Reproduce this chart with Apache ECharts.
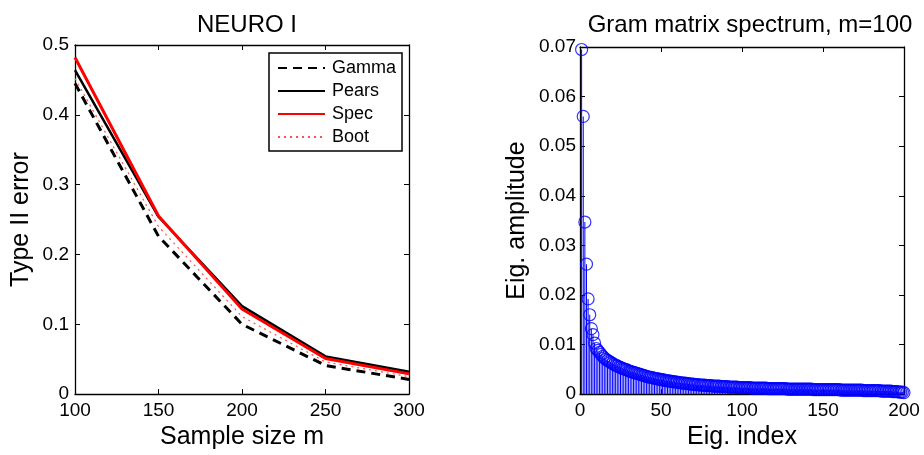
<!DOCTYPE html>
<html>
<head>
<meta charset="utf-8">
<script src="https://cdn.jsdelivr.net/npm/echarts@6/dist/echarts.min.js"></script>
<style>
  html, body { margin: 0; padding: 0; background: #fff; }
  #chart { width: 924px; height: 455px; }
</style>
</head>
<body>
<div id="chart"></div>
<script>
  // left panel: type II error vs sample size
  const sampleSizes = [100, 150, 200, 250, 300];
  const gamma = [0.445, 0.226, 0.100, 0.041, 0.021];
  const pears = [0.464, 0.254, 0.126, 0.054, 0.032];
  const spec = [0.482, 0.255, 0.122, 0.051, 0.029];
  const boot = [0.452, 0.240, 0.111, 0.046, 0.025];

  const leftXTicks = { min: 100, max: 300, interval: 50 };
  const leftYTicks = { min: 0, max: 0.5, interval: 0.1 };

  // right panel: eigenvalues of the gram matrix, index 1..200
  const eigValues = [
    0.0695, 0.0560, 0.0347, 0.0262, 0.0192, 0.0160, 0.0132, 0.0120, 0.0103, 0.0092,
    0.0088, 0.0084, 0.0080, 0.0076, 0.0073, 0.0070, 0.0068, 0.0066, 0.0064, 0.0062,
    0.0060, 0.0058, 0.0057, 0.0055, 0.0054, 0.0052, 0.0051, 0.0050, 0.0049, 0.0047,
    0.0046, 0.0045, 0.0044, 0.0043, 0.0042, 0.0041, 0.0040, 0.0039, 0.0038, 0.0037,
    0.0036, 0.0035, 0.0034, 0.0034, 0.0033, 0.0032, 0.0031, 0.0031, 0.0030, 0.0029,
    0.0029, 0.0028, 0.0027, 0.0027, 0.0026, 0.0026, 0.0025, 0.0025, 0.0024, 0.0024,
    0.0023, 0.0023, 0.0022, 0.0022, 0.0022, 0.0021, 0.0021, 0.0020, 0.0020, 0.0020,
    0.0019, 0.0019, 0.0019, 0.0018, 0.0018, 0.0018, 0.0018, 0.0017, 0.0017, 0.0017,
    0.0017, 0.0016, 0.0016, 0.0016, 0.0016, 0.0016, 0.0015, 0.0015, 0.0015, 0.0015,
    0.0015, 0.0014, 0.0014, 0.0014, 0.0014, 0.0014, 0.0014, 0.0013, 0.0013, 0.0013,
    0.0013, 0.0013, 0.0013, 0.0013, 0.0013, 0.0012, 0.0012, 0.0012, 0.0012, 0.0012,
    0.0012, 0.0012, 0.0012, 0.0012, 0.0012, 0.0011, 0.0011, 0.0011, 0.0011, 0.0011,
    0.0011, 0.0011, 0.0011, 0.0011, 0.0011, 0.0011, 0.0011, 0.0010, 0.0010, 0.0010,
    0.0010, 0.0010, 0.0010, 0.0010, 0.0010, 0.0010, 0.0010, 0.0010, 0.0010, 0.0010,
    0.0010, 0.0010, 0.0010, 0.0009, 0.0009, 0.0009, 0.0009, 0.0009, 0.0009, 0.0009,
    0.0009, 0.0009, 0.0009, 0.0009, 0.0009, 0.0009, 0.0009, 0.0009, 0.0009, 0.0009,
    0.0008, 0.0008, 0.0008, 0.0008, 0.0008, 0.0008, 0.0008, 0.0008, 0.0008, 0.0008,
    0.0008, 0.0008, 0.0008, 0.0008, 0.0007, 0.0007, 0.0007, 0.0007, 0.0007, 0.0007,
    0.0007, 0.0007, 0.0007, 0.0007, 0.0007, 0.0006, 0.0006, 0.0006, 0.0006, 0.0006,
    0.0006, 0.0006, 0.0005, 0.0005, 0.0005, 0.0005, 0.0004, 0.0004, 0.0004, 0.0003
  ];

  const rightXTicks = { min: 0, max: 200, interval: 50 };
  const rightYTicks = { min: 0, max: 0.07, interval: 0.01 };

  const FONT = "'Liberation Sans', Arial, Helvetica, sans-serif";

  const pairs = (xs, ys) => xs.map((x, i) => [x, ys[i]]);
  const eigPairs = eigValues.map((v, i) => [i + 1, v]);

  // axis styling shared by all the frame sides
  function frameAxis(gridIndex, ticks, position, extra) {
    return Object.assign({
      type: "value",
      gridIndex: gridIndex,
      position: position,
      min: ticks.min,
      max: ticks.max,
      interval: ticks.interval,
      axisLine: { show: true, onZero: false, lineStyle: { color: "#000", width: 1.3 } },
      axisTick: { show: true, inside: true, length: 5, lineStyle: { color: "#000", width: 1 } },
      splitLine: { show: false },
      axisLabel: { show: false },
    }, extra || {});
  }

  const labelStyle = { show: true, color: "#000", fontSize: 19, fontFamily: FONT };
  const nameStyle = { color: "#000", fontSize: 25, fontFamily: FONT };

  const option = {
    backgroundColor: "#fff",
    animation: false,
    title: [
      {
        text: "NEURO I",
        left: 242,
        top: 8,
        textAlign: "center",
        textStyle: { color: "#000", fontSize: 24, fontWeight: "normal", fontFamily: FONT },
      },
      {
        text: "Gram matrix spectrum, m=100",
        left: 745,
        top: 8,
        textAlign: "center",
        textStyle: { color: "#000", fontSize: 24, fontWeight: "normal", fontFamily: FONT },
      },
    ],
    legend: {
      left: 269,
      top: 53,
      orient: "vertical",
      itemWidth: 47,
      itemHeight: 14,
      itemGap: 5,
      padding: [6, 6, 5, 8],
      borderColor: "#000",
      borderWidth: 1.5,
      backgroundColor: "#fff",
      itemStyle: { opacity: 0 },
      textStyle: { color: "#000", fontSize: 18, fontFamily: FONT, padding: [0, 0, 0, 2] },
      data: ["Gamma", "Pears", "Spec", "Boot"],
    },
    grid: [
      { left: 75, right: 515, top: 45, bottom: 58 },
      { left: 580, right: 20, top: 47, bottom: 58 },
    ],
    xAxis: [
      frameAxis(0, leftXTicks, "bottom", {
        axisLabel: Object.assign({ margin: 7 }, labelStyle),
        name: "Sample size m",
        nameLocation: "middle",
        nameGap: 26,
        nameTextStyle: nameStyle,
      }),
      frameAxis(0, leftXTicks, "top"),
      frameAxis(1, rightXTicks, "bottom", {
        axisLabel: Object.assign({ margin: 7 }, labelStyle),
        name: "Eig. index",
        nameLocation: "middle",
        nameGap: 26,
        nameTextStyle: nameStyle,
      }),
      frameAxis(1, rightXTicks, "top"),
    ],
    yAxis: [
      frameAxis(0, leftYTicks, "left", {
        axisLabel: Object.assign({ margin: 6 }, labelStyle),
        name: "Type II error",
        nameLocation: "middle",
        nameGap: 41,
        nameTextStyle: nameStyle,
      }),
      frameAxis(0, leftYTicks, "right"),
      frameAxis(1, rightYTicks, "left", {
        axisLabel: Object.assign({ margin: 4 }, labelStyle),
        name: "Eig. amplitude",
        nameLocation: "middle",
        nameGap: 50,
        nameTextStyle: nameStyle,
      }),
      frameAxis(1, rightYTicks, "right"),
    ],
    series: [
      {
        name: "Gamma",
        type: "line",
        xAxisIndex: 0,
        yAxisIndex: 0,
        symbol: "none",
        lineStyle: { color: "#000", width: 3, type: [9, 6] },
        itemStyle: { color: "#000" },
        data: pairs(sampleSizes, gamma),
      },
      {
        name: "Pears",
        type: "line",
        xAxisIndex: 0,
        yAxisIndex: 0,
        symbol: "none",
        lineStyle: { color: "#000", width: 2.5 },
        itemStyle: { color: "#000" },
        data: pairs(sampleSizes, pears),
      },
      {
        name: "Spec",
        type: "line",
        xAxisIndex: 0,
        yAxisIndex: 0,
        symbol: "none",
        lineStyle: { color: "#ff0000", width: 3 },
        itemStyle: { color: "#ff0000" },
        data: pairs(sampleSizes, spec),
      },
      {
        name: "Boot",
        type: "line",
        xAxisIndex: 0,
        yAxisIndex: 0,
        symbol: "none",
        lineStyle: { color: "#ff5050", width: 1.2, type: [2, 4] },
        itemStyle: { color: "#ff5050" },
        data: pairs(sampleSizes, boot),
      },
      // stems
      {
        type: "bar",
        xAxisIndex: 2,
        yAxisIndex: 2,
        barWidth: 1,
        itemStyle: { color: "#0000ff" },
        data: eigPairs,
      },
      // hollow markers
      {
        type: "scatter",
        xAxisIndex: 2,
        yAxisIndex: 2,
        symbol: "circle",
        symbolSize: 12,
        itemStyle: { color: "rgba(0,0,0,0)", borderColor: "#0000ff", borderWidth: 1.2 },
        data: eigPairs,
      },
    ],
  };

  const chart = echarts.init(document.getElementById("chart"));
  chart.setOption(option);
  window.addEventListener("resize", () => {
    chart.resize();
  });
</script>
</body>
</html>
